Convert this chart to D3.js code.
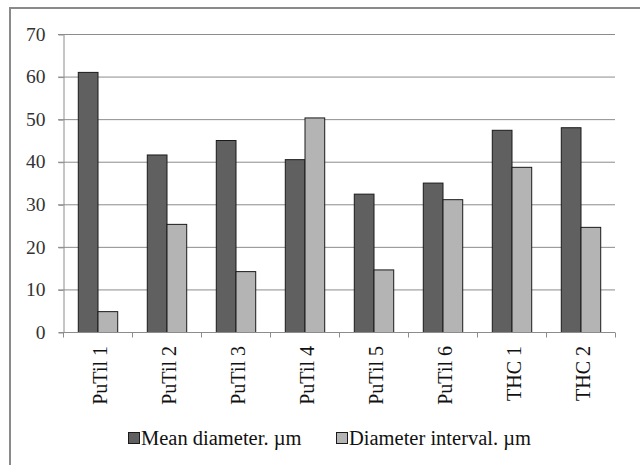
<!DOCTYPE html>
<html>
<head>
<meta charset="utf-8">
<script src="https://cdn.jsdelivr.net/npm/d3@7"></script>
<style>
    body { margin: 0; background: #fff; }
    text { font-family: "Liberation Serif", "Times New Roman", serif; }
</style>
</head>
<body>
<svg id="chart" width="640" height="465"></svg>
<script>
// categories and series
const categories = ["PuTil 1", "PuTil 2", "PuTil 3", "PuTil 4", "PuTil 5", "PuTil 6", "THC 1", "THC 2"];
const seriesNames = ["Mean diameter. \u00b5m", "Diameter interval. \u00b5m"];
const meanDiameter = [61.1, 41.7, 45.1, 40.6, 32.5, 35.1, 47.5, 48.1];
const diameterInterval = [4.9, 25.4, 14.3, 50.4, 14.7, 31.2, 38.8, 24.7];
const yTicks = [0, 10, 20, 30, 40, 50, 60, 70];

const colors = ["#606060", "#b4b4b4"];

const svg = d3.select("#chart");

// outer frame (only top and left visible)
svg.append("rect")
    .attr("x", 10).attr("y", 8)
    .attr("width", 700).attr("height", 600)
    .attr("fill", "none")
    .attr("stroke", "#8a8a8a")
    .attr("stroke-width", 2);

const plot = { left: 63, right: 615, top: 34, bottom: 332 };

let x = d3.scaleBand()
    .domain(categories)
    .range([plot.left, plot.right]);

let xInner = d3.scaleBand()
    .domain([0, 1])
    .range([0, x.bandwidth()])
    .paddingOuter(0.75)
    .paddingInner(0);

let y = d3.scaleLinear()
    .domain([0, 70])
    .range([plot.bottom, plot.top]);

// gridlines
svg.append("g")
    .selectAll("line")
    .data(yTicks.filter(d => d > 0))
    .join("line")
    .attr("x1", plot.left - 5)
    .attr("x2", plot.right)
    .attr("y1", d => y(d) + 0.5)
    .attr("y2", d => y(d) + 0.5)
    .attr("stroke", "#8c8c8c")
    .attr("stroke-width", 1);

// y axis
let yAxis = svg.append("g")
    .attr("transform", `translate(${plot.left + 0.5},0)`)
    .call(d3.axisLeft(y).tickValues(yTicks).tickSize(5).tickPadding(13));
yAxis.select(".domain").attr("stroke", "#8c8c8c");
yAxis.selectAll(".tick line").attr("stroke", "#8c8c8c").attr("transform", "translate(0,0.5)");
yAxis.selectAll(".tick text")
    .attr("font-family", "'Liberation Serif', serif")
    .attr("font-size", 19.5)
    .attr("fill", "#333");

// bars
let rows = categories.map((c, i) => ({ cat: c, values: [meanDiameter[i], diameterInterval[i]] }));

let groups = svg.append("g")
    .selectAll("g")
    .data(rows)
    .join("g")
    .attr("transform", d => `translate(${x(d.cat)},0)`);

groups.selectAll("rect")
    .data(d => d.values.map((v, k) => ({ k: k, v: v })))
    .join("rect")
    .attr("x", d => xInner(d.k) + 0.5)
    .attr("y", d => y(d.v) + 0.5)
    .attr("width", xInner.bandwidth())
    .attr("height", d => plot.bottom - y(d.v))
    .attr("fill", d => colors[d.k])
    .attr("stroke", "#1a1a1a")
    .attr("stroke-width", 1);

// x axis
let xAxis = svg.append("g")
    .attr("transform", `translate(0,${plot.bottom + 0.5})`);
xAxis.append("line")
    .attr("x1", plot.left).attr("x2", plot.right)
    .attr("stroke", "#8c8c8c");
let bounds = categories.map(c => x(c)).concat([plot.right]);
xAxis.selectAll(".tk")
    .data(bounds)
    .join("line")
    .attr("class", "tk")
    .attr("x1", d => Math.round(d) + 0.5).attr("x2", d => Math.round(d) + 0.5)
    .attr("y1", 0).attr("y2", 5)
    .attr("stroke", "#8c8c8c");

svg.append("g")
    .selectAll("text")
    .data(categories)
    .join("text")
    .attr("transform", d => `translate(${x(d) + x.bandwidth() / 2 + 9},${plot.bottom + 14}) rotate(-90)`)
    .attr("text-anchor", "end")
    .attr("font-size", 20)
    .attr("fill", "#111")
    .text(d => d);

// legend
let legendX = [128, 336];
let legend = svg.append("g")
    .selectAll("g")
    .data(seriesNames)
    .join("g")
    .attr("transform", (d, i) => `translate(${legendX[i]},432)`);

legend.append("rect")
    .attr("x", 0.5).attr("y", 0.5)
    .attr("width", 11).attr("height", 11)
    .attr("fill", (d, i) => colors[i])
    .attr("stroke", "#1a1a1a");

legend.append("text")
    .attr("x", 13)
    .attr("y", 13)
    .attr("font-size", 20.5)
    .attr("fill", "#111")
    .text(d => d);
</script>
</body>
</html>
